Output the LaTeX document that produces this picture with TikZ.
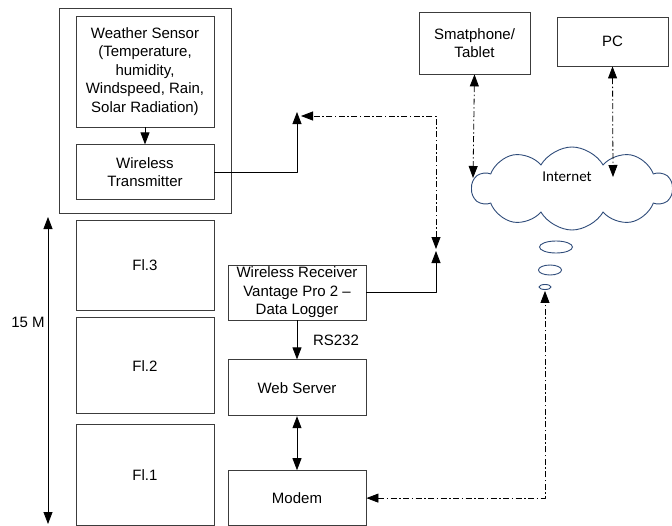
\documentclass[tikz,border=0pt]{standalone}
\usepackage{fontspec}
\setmainfont{Liberation Sans}
\newfontfamily\cloudfont{Carlito}
\usepackage{tikz}
\usetikzlibrary{arrows.meta, positioning, shapes.geometric, shapes.symbols}
\usepackage{xcolor}
\definecolor{BoxGray}{RGB}{60,60,60}
\definecolor{CloudBlue}{RGB}{47,76,122}
\tikzset{%
  block/.style={%
    rectangle,%
    minimum width=138pt,%
    minimum height=55pt,%
    draw=BoxGray,%
    line width=0.8pt,%
    inner sep=2pt,%
    font={\fontsize{15}{18.5}\selectfont},%
    align=center%
  },
  device/.style={%
    block,%
    minimum width=111pt,%
  },
  cloud_shape/.style={%
    cloud,%
    cloud puffs=10,%
    cloud puff arc=120,%
    aspect=2.4,%
    minimum width=200pt,%
    minimum height=83pt,%
    draw=CloudBlue,%
    line width=0.9pt,%
  },
  bubble/.style={%
    ellipse,%
    draw=CloudBlue,%
    line width=0.9pt,%
    inner sep=0pt,%
  },
  annotate/.style={%
    font={\fontsize{15}{18.5}\selectfont},%
  },
  signal/.style={%
    color=black,%
    line width=0.8pt,%
    line join=round,%
  },
  wireless/.style={%
    signal,%
    dash pattern=on 6pt off 2.5pt on 1.5pt off 2.5pt,%
  },
  arrow/.style={-{Triangle[length=12pt, width=9pt]}},
  both_arrow/.style={{Triangle[length=12pt, width=9pt]}-{Triangle[length=12pt, width=9pt]}},
}
\begin{document}
\begin{tikzpicture}[x=1pt, y=-1pt]
  \useasboundingbox (0,0) rectangle (672,525);

    % weather station on the roof
    \node [block, minimum width=172pt, minimum height=205pt] (Station) at (145,110.5) {};
    \node [block, minimum height=111pt] (Sensor) at (145,71.5)
      {Weather Sensor\\(Temperature,\\humidity,\\Windspeed, Rain,\\Solar Radiation)};
    \node [block, below = 17pt of Sensor] (Trans) {Wireless\\Transmitter};

    % floors
    \node [block, minimum height=90pt] (Fl3) at (145,265) {Fl.3};
    \node [block, minimum height=96pt, below = 7pt of Fl3] (Fl2) {Fl.2};
    \node [block, minimum height=101pt, below = 10pt of Fl2] (Fl1) {Fl.1};

    % equipment inside
    \node [block] (Receiver) at (297,292.5)
      {Wireless Receiver\\Vantage Pro 2 \textendash\\Data Logger};
    \node [block, minimum height=56pt, below = 39pt of Receiver] (WebServer) {Web Server};
    \node [block, below = 54pt of WebServer] (Modem) {Modem};

    % remote side
    \node [device, minimum height=62pt] (Phone) at (474.5,43) {Smatphone/\\Tablet};
    \node [device, minimum height=49pt] (PC) at (612.5,41.5) {PC};
    \node [cloud_shape] (Cloud) at (572,188.5) {};
    \node [annotate, font={\cloudfont\fontsize{15}{18}\selectfont}] (Internet) at (567,177) {Internet};
    \node [bubble, minimum width=33pt, minimum height=12pt] (Bubble1) at (556,247) {};
    \node [bubble, minimum width=23pt, minimum height=10pt] (Bubble2) at (550,270) {};
    \node [bubble, minimum width=12pt, minimum height=5pt] (Bubble3) at (545,287) {};

    \node [annotate] (RS) at (336,340) {RS232};
    \node [annotate] (Height) at (28,322) {15 M};

    \coordinate (tx_tip) at (297,112);
    \coordinate (air_corner) at (436,116);
    \coordinate (air_tip) at (301,116);
    \coordinate (air_low) at (436,249);
    \coordinate (rx_tip) at (436,251);
    \coordinate (phone_tip) at (473,178);
    \coordinate (pc_tip) at (613,177);
    \coordinate (scale_top) at (48,217);
    \coordinate (scale_bot) at (48,524);

    \draw [arrow, signal]
      (Sensor.south)
      --
      (Trans.north);
    \draw [arrow, signal]
      (Trans.east)
      -|
      (tx_tip);
    \draw [both_arrow, wireless]
      (air_low)
      --
      (air_corner)
      --
      (air_tip);
    \draw [arrow, signal]
      (Receiver.east)
      -|
      (rx_tip);
    \draw [arrow, signal]
      (Receiver.south)
      --
      (WebServer.north);
    \draw [both_arrow, signal]
      (WebServer.south)
      --
      (Modem.north);
    \draw [both_arrow, wireless]
      (Modem.east)
      -|
      ([yshift=-1pt]Bubble3.south);
    \draw [both_arrow, wireless]
      (Phone.south)
      --
      (phone_tip);
    \draw [both_arrow, wireless]
      (PC.south)
      --
      (pc_tip);
    \draw [both_arrow, signal]
      (scale_top)
      --
      (scale_bot);
  \end{tikzpicture}
\end{document}
